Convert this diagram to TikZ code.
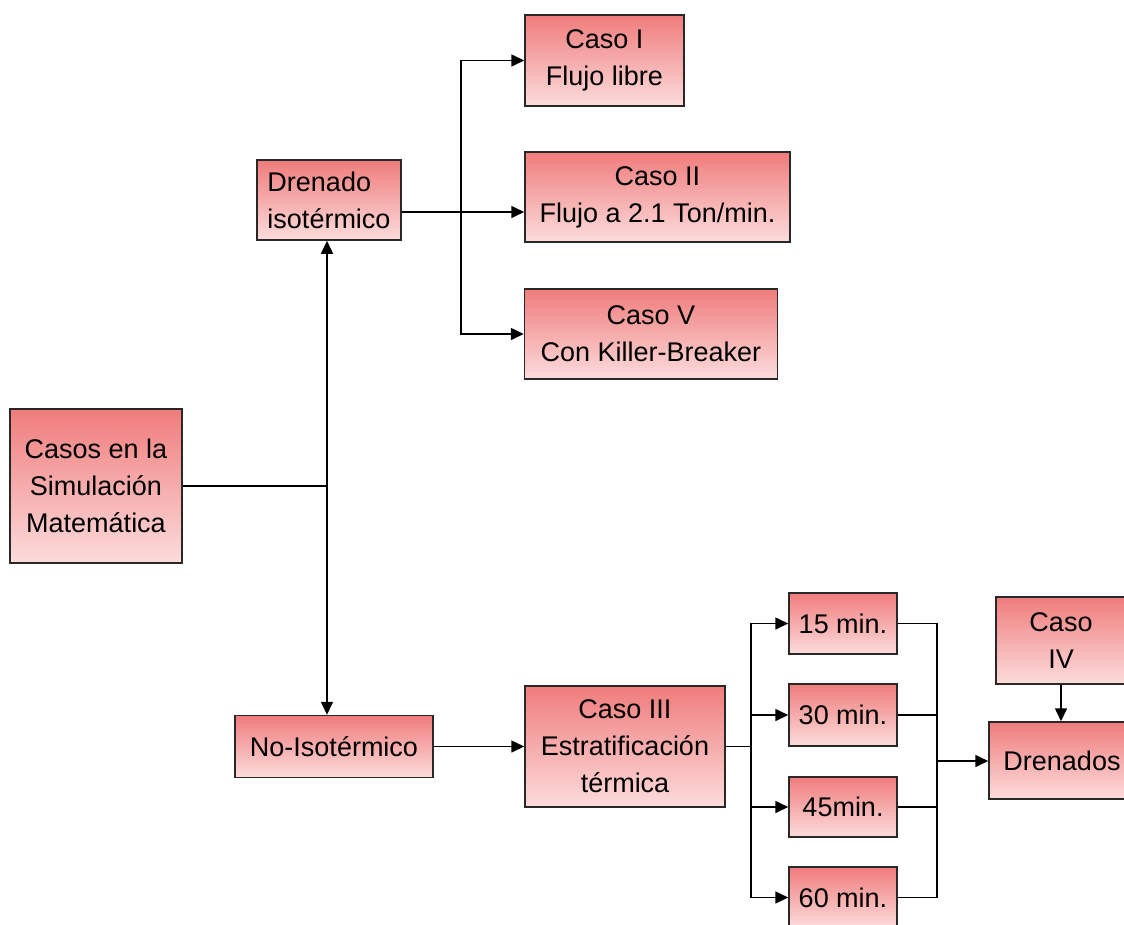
\documentclass[tikz,border=0pt]{standalone}
\usepackage{fontspec}
\setmainfont{Liberation Sans}
\usetikzlibrary{arrows.meta}
\definecolor{boxtop}{RGB}{240,124,124}
\definecolor{boxbot}{RGB}{252,220,220}
\definecolor{boxline}{RGB}{40,40,40}
\tikzset{
  cbox/.style={draw=boxline, line width=1.5pt, top color=boxtop, bottom color=boxbot,
    inner sep=0pt, align=center, font=\fontsize{27}{37}\selectfont},
  conn/.style={line width=1.6pt, black},
  arr/.style={conn, -{Triangle[length=13pt,width=12pt]}}
}
\begin{document}
\begin{tikzpicture}[x=1pt,y=-1pt]
\clip (0,0) rectangle (1124,924);
\fill[white] (0,0) rectangle (1124,924);

\node[cbox, minimum width=172pt, minimum height=154pt] (casos) at (96,486) {Casos en la\\Simulación\\Matemática};
\node[cbox, minimum width=144pt, minimum height=80pt, align=left] (dren) at (329,200) {Drenado\\isotérmico};
\node[cbox, minimum width=159pt, minimum height=91pt] (casoI) at (604.5,60.5) {Caso I\\Flujo libre};
\node[cbox, minimum width=265pt, minimum height=90pt] (casoII) at (657.5,197) {Caso II\\Flujo a 2.1 Ton/min.};
\node[cbox, minimum width=253pt, minimum height=90pt] (casoV) at (651,334) {Caso V\\Con Killer-Breaker};
\node[cbox, minimum width=198pt, minimum height=62pt] (noiso) at (334,746.5) {No-Isotérmico};
\node[cbox, minimum width=200pt, minimum height=121pt] (casoIII) at (625,746.5) {Caso III\\Estratificación\\térmica};
\node[cbox, minimum width=108pt, minimum height=61pt] (m15) at (843,623.5) {15 min.};
\node[cbox, minimum width=108pt, minimum height=62pt] (m30) at (843,715) {30 min.};
\node[cbox, minimum width=108pt, minimum height=60pt] (m45) at (843,807) {45min.};
\node[cbox, minimum width=108pt, minimum height=61pt] (m60) at (843,897.5) {60 min.};
\node[cbox, minimum width=130pt, minimum height=87pt] (casoIV) at (1061,640.5) {Caso\\IV};
\node[cbox, minimum width=146pt, minimum height=77pt] (drenados) at (1062,760.5) {Drenados};

\coordinate (j1) at (327,486);
\coordinate (j2) at (461,212);
\coordinate (j3) at (751,746.5);
\coordinate (j4) at (937,761);

\draw[conn] (casos.east |- j1) -- (j1);
\draw[arr] (j1) -- (j1 |- dren.south);
\draw[arr] (j1) -- (j1 |- noiso.north);

\draw[conn] (dren.east |- j2) -- (j2);
\draw[arr] (j2) -- (casoII.west |- j2);
\draw[arr] (j2) |- (casoI.west);
\draw[arr] (j2) |- (casoV.west);

\draw[arr] (noiso.east) -- (casoIII.west);

\draw[conn] (casoIII.east) -- (j3);
\draw[arr] (j3) |- (m15.west);
\draw[arr] (j3) |- (m30.west);
\draw[arr] (j3) |- (m45.west);
\draw[arr] (j3) |- (m60.west);

\draw[conn] (m15.east) -| (j4);
\draw[conn] (m60.east) -| (j4);
\draw[conn] (m30.east) -- (j4 |- m30.east);
\draw[conn] (m45.east) -- (j4 |- m45.east);
\draw[arr] (j4) -- (drenados.west |- j4);

\draw[arr] (casoIV.south -| 1061,0) -- (drenados.north -| 1061,0);
\end{tikzpicture}
\end{document}
